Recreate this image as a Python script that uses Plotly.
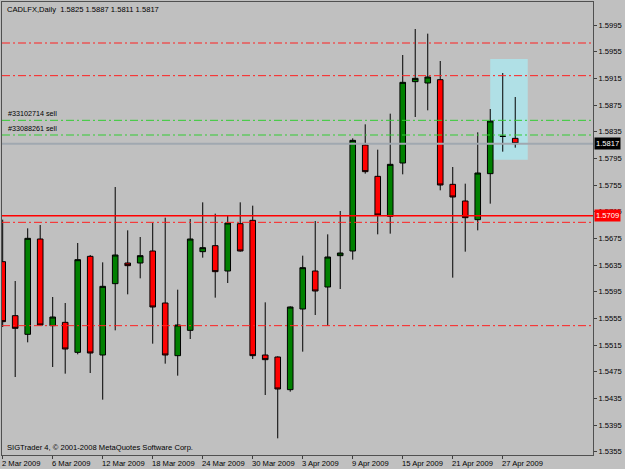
import plotly.graph_objects as go

# ---------------- data ----------------
dates = [
    "2009-03-02", "2009-03-03", "2009-03-04", "2009-03-05", "2009-03-06",
    "2009-03-09", "2009-03-10", "2009-03-11", "2009-03-12", "2009-03-13",
    "2009-03-16", "2009-03-17", "2009-03-18", "2009-03-19", "2009-03-20",
    "2009-03-23", "2009-03-24", "2009-03-25", "2009-03-26", "2009-03-27",
    "2009-03-30", "2009-03-31", "2009-04-01", "2009-04-02", "2009-04-03",
    "2009-04-06", "2009-04-07", "2009-04-08", "2009-04-09", "2009-04-10",
    "2009-04-13", "2009-04-14", "2009-04-15", "2009-04-16", "2009-04-17",
    "2009-04-20", "2009-04-21", "2009-04-22", "2009-04-23", "2009-04-24",
    "2009-04-27", "2009-04-28",
]
opens = [1.5640, 1.5559, 1.5531, 1.5674, 1.5544, 1.5549, 1.5504, 1.5648, 1.5500, 1.5607,
         1.5638, 1.5638, 1.5656, 1.5578, 1.5499, 1.5537, 1.5655, 1.5664, 1.5626, 1.5697,
         1.5702, 1.5500, 1.5497, 1.5448, 1.5569, 1.5626, 1.5602, 1.5649, 1.5656, 1.5815,
         1.5768, 1.5708, 1.5788, 1.5910, 1.5908, 1.5913, 1.5756, 1.5731, 1.5703, 1.5772,
         1.5828, 1.5825]
highs = [1.5703, 1.5611, 1.5690, 1.5695, 1.5587, 1.5578, 1.5668, 1.5650, 1.5639, 1.5752,
         1.5687, 1.5677, 1.5698, 1.5706, 1.5598, 1.5704, 1.5729, 1.5712, 1.5709, 1.5729,
         1.5724, 1.5579, 1.5498, 1.5573, 1.5649, 1.5701, 1.5681, 1.5716, 1.5825, 1.5846,
         1.5808, 1.5862, 1.5950, 1.5989, 1.5982, 1.5941, 1.5782, 1.5757, 1.5834, 1.5869,
         1.5923, 1.5887]
lows = [1.5542, 1.5467, 1.5519, 1.5544, 1.5482, 1.5472, 1.5501, 1.5473, 1.5433, 1.5537,
        1.5591, 1.5615, 1.5517, 1.5487, 1.5469, 1.5524, 1.5646, 1.5586, 1.5608, 1.5655,
        1.5494, 1.5440, 1.5375, 1.5445, 1.5505, 1.5560, 1.5544, 1.5599, 1.5643, 1.5772,
        1.5681, 1.5682, 1.5771, 1.5857, 1.5867, 1.5747, 1.5616, 1.5655, 1.5687, 1.5727,
        1.5805, 1.5811]
closes = [1.5550, 1.5540, 1.5675, 1.5545, 1.5557, 1.5509, 1.5643, 1.5503, 1.5603, 1.5650,
          1.5634, 1.5649, 1.5572, 1.5500, 1.5545, 1.5674, 1.5661, 1.5625, 1.5698, 1.5656,
          1.5499, 1.5493, 1.5449, 1.5572, 1.5631, 1.5596, 1.5647, 1.5653, 1.5822, 1.5775,
          1.5710, 1.5786, 1.5909, 1.5915, 1.5917, 1.5755, 1.5737, 1.5706, 1.5773, 1.5851,
          1.5828, 1.5817]

tick_dates = ["2009-03-02", "2009-03-06", "2009-03-12", "2009-03-18", "2009-03-24",
              "2009-03-30", "2009-04-03", "2009-04-09", "2009-04-15", "2009-04-21",
              "2009-04-27"]
tick_labels = ["2 Mar 2009", "6 Mar 2009", "12 Mar 2009", "18 Mar 2009", "24 Mar 2009",
               "30 Mar 2009", "3 Apr 2009", "9 Apr 2009", "15 Apr 2009", "21 Apr 2009",
               "27 Apr 2009"]
price_ticks = [1.5355, 1.5395, 1.5435, 1.5475, 1.5515, 1.5555, 1.5595, 1.5635, 1.5675,
               1.5715, 1.5755, 1.5795, 1.5835, 1.5875, 1.5915, 1.5955, 1.5995]

red_dashdot_levels = [1.5968, 1.5919, 1.5699, 1.5544]
order_levels = [1.5852, 1.5830]
order_labels = ["#33102714 sell", "#33088261 sell"]
bid_level = 1.5817
red_level = 1.5709
highlight_bars = [39, 42]
highlight_prices = [1.5793, 1.5944]

title_text = "CADLFX,Daily  1.5825 1.5887 1.5811 1.5817"
footer_text = "SIGTrader 4, © 2001-2008 MetaQuotes Software Corp."

# ---------------- figure ----------------
FONT = "Liberation Sans, Arial, sans-serif"
FS = 7.6
x = list(range(len(dates)))

fig = go.Figure()
fig.add_trace(go.Candlestick(
    x=x, open=opens, high=highs, low=lows, close=closes,
    increasing=dict(fillcolor="#008000", line=dict(color="#000000", width=1)),
    decreasing=dict(fillcolor="#FF0000", line=dict(color="#000000", width=1)),
    whiskerwidth=0, showlegend=False, hoverinfo="skip",
))

shapes = []
shapes.append(dict(type="rect", xref="x", yref="y",
                   x0=highlight_bars[0], x1=highlight_bars[1],
                   y0=highlight_prices[0], y1=highlight_prices[1],
                   fillcolor="#B0E0E6", line=dict(width=0), layer="below"))
for lv in red_dashdot_levels:
    shapes.append(dict(type="line", xref="paper", yref="y", x0=0, x1=1, y0=lv, y1=lv,
                       line=dict(color="#FF2020", width=1, dash="8px,3px,2px,3px")))
for lv in order_levels:
    shapes.append(dict(type="line", xref="paper", yref="y", x0=0, x1=1, y0=lv, y1=lv,
                       line=dict(color="#33CC33", width=1, dash="8px,3px,2px,3px")))
shapes.append(dict(type="line", xref="paper", yref="y", x0=0, x1=1, y0=bid_level, y1=bid_level,
                   line=dict(color="#A0A8B0", width=2)))
shapes.append(dict(type="line", xref="paper", yref="y", x0=0, x1=1, y0=red_level, y1=red_level,
                   line=dict(color="#FF0000", width=1.5)))

annotations = []
annotations.append(dict(xref="paper", yref="paper", x=0, y=1, xanchor="left", yanchor="top",
                        xshift=3, yshift=-1, text=title_text, showarrow=False,
                        font=dict(family=FONT, size=FS, color="#000000")))
annotations.append(dict(xref="paper", yref="paper", x=0, y=0, xanchor="left", yanchor="bottom",
                        xshift=3, yshift=1, text=footer_text, showarrow=False,
                        font=dict(family=FONT, size=FS, color="#000000")))
for lv, lab in zip(order_levels, order_labels):
    annotations.append(dict(xref="paper", yref="y", x=0, y=lv, xanchor="left", yanchor="bottom",
                            xshift=4, yshift=0, text=lab, showarrow=False,
                            font=dict(family=FONT, size=FS - 0.4, color="#000000")))
for d, lab in zip(tick_dates, tick_labels):
    annotations.append(dict(xref="x", yref="paper", x=dates.index(d), y=0,
                            xanchor="left", yanchor="top", xshift=-3, yshift=-2,
                            text=lab, showarrow=False,
                            font=dict(family=FONT, size=FS, color="#000000")))
annotations.append(dict(xref="paper", yref="y", x=1, y=bid_level, xanchor="left", yanchor="middle",
                        xshift=1, text=f"{bid_level:.4f}", showarrow=False, bgcolor="#000000",
                        borderpad=1, font=dict(family=FONT, size=FS, color="#FFFFFF")))
annotations.append(dict(xref="paper", yref="y", x=1, y=red_level, xanchor="left", yanchor="middle",
                        xshift=1, text=f"{red_level:.4f}", showarrow=False, bgcolor="#FF0000",
                        borderpad=1, font=dict(family=FONT, size=FS, color="#FFFFFF")))

fig.update_layout(
    width=625, height=469,
    margin=dict(l=2, r=32, t=2, b=14),
    paper_bgcolor="#C0C0C0", plot_bgcolor="#C0C0C0",
    boxgap=0.36,
    shapes=shapes, annotations=annotations,
    font=dict(family=FONT, size=FS, color="#000000"),
    xaxis=dict(range=[-0.056, 47.22], rangeslider=dict(visible=False),
               showgrid=False, zeroline=False, showline=True, mirror=True,
               linecolor="#505050", linewidth=1,
               tickmode="array", tickvals=[dates.index(d) for d in tick_dates],
               ticktext=["" for _ in tick_dates], ticks="outside", ticklen=3,
               tickcolor="#404040", fixedrange=True),
    yaxis=dict(range=[1.5350, 1.60295], side="right",
               showgrid=False, zeroline=False, showline=True, mirror=True,
               linecolor="#505050", linewidth=1,
               tickmode="array", tickvals=price_ticks,
               ticktext=[f"{v:.4f}" for v in price_ticks],
               ticks="outside", ticklen=3, tickcolor="#404040",
               tickfont=dict(family=FONT, size=FS, color="#000000"), fixedrange=True),
)

fig.write_html("out.html")
